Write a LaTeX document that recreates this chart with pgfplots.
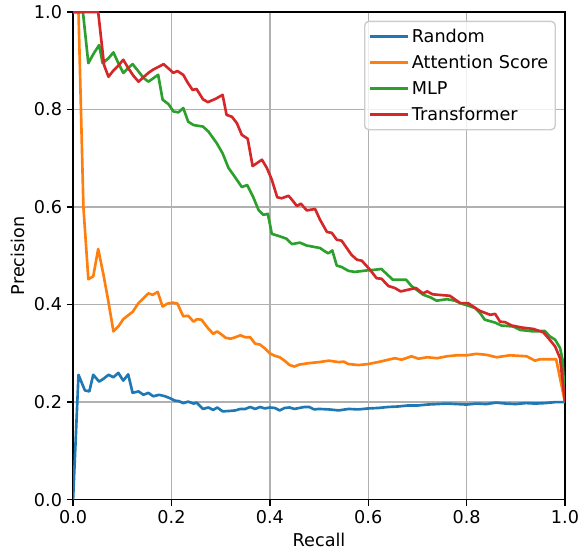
\documentclass[border=0pt]{standalone}
\usepackage{fontspec}
\setmainfont{DejaVu Sans}
\usepackage{pgfplots}
\pgfplotsset{compat=1.18}

\definecolor{tabblue}{HTML}{1F77B4}
\definecolor{taborange}{HTML}{FF7F0E}
\definecolor{tabgreen}{HTML}{2CA02C}
\definecolor{tabred}{HTML}{D62728}
\newcommand{\mplfont}{\fontsize{12.7pt}{15pt}\selectfont}

\begin{document}
\begin{tikzpicture}
\begin{axis}[
    scale only axis,
    width=354pt, height=351pt,
    xmin=0, xmax=1, ymin=0, ymax=1,
    xtick={0,0.2,...,1.0}, ytick={0,0.2,...,1.0},
    xticklabel style={/pgf/number format/.cd, fixed, fixed zerofill, precision=1},
    yticklabel style={/pgf/number format/.cd, fixed, fixed zerofill, precision=1},
    /pgf/number format/assume math mode=true,
    ticklabel style={font=\mplfont},
    label style={font=\mplfont},
    tick align=outside, xtick pos=bottom, ytick pos=left,
    major tick length=4.4pt,
    tick style={black, line width=1pt},
    axis line style={black, line width=1pt},
    grid=major,
    grid style={color=black!31, line width=1pt},
    xlabel={Recall}, ylabel={Precision},
    every axis plot/.append style={line width=1.9pt, line join=round},
    legend cell align=left,
    legend image code/.code={\draw[#1] (0pt,0pt) -- (27pt,0pt);},
    legend style={at={(1,1)}, anchor=north east, xshift=-6.5pt, yshift=-6.3pt,
        font=\mplfont,
        draw=black!20, line width=1pt, rounded corners=3pt, fill=white, fill opacity=0.8, text opacity=1,
        row sep=3.8pt, inner xsep=3pt, inner ysep=3.2pt},
]
\addplot[tabblue] coordinates {
(0,0) (0.011,0.256) (0.024,0.224) (0.033,0.222) (0.041,0.256) (0.053,0.242) (0.062,0.248)
(0.072,0.256) (0.082,0.251) (0.092,0.26) (0.102,0.244) (0.112,0.257) (0.121,0.219) (0.133,0.222)
(0.143,0.215) (0.153,0.219) (0.163,0.212) (0.175,0.215) (0.187,0.212) (0.197,0.208) (0.207,0.203)
(0.215,0.202) (0.224,0.198) (0.234,0.201) (0.245,0.197) (0.251,0.199) (0.264,0.186) (0.275,0.189)
(0.285,0.184) (0.293,0.189) (0.304,0.181) (0.32,0.182) (0.33,0.183) (0.34,0.186) (0.35,0.186)
(0.36,0.19) (0.37,0.186) (0.38,0.19) (0.39,0.187) (0.40,0.189) (0.41,0.188) (0.42,0.183)
(0.43,0.188) (0.44,0.189) (0.45,0.186) (0.46,0.188) (0.47,0.19) (0.48,0.19) (0.49,0.185)
(0.50,0.186) (0.52,0.185) (0.54,0.183) (0.56,0.186) (0.58,0.185) (0.60,0.187) (0.62,0.188)
(0.64,0.19) (0.66,0.191) (0.68,0.193) (0.70,0.193) (0.72,0.195) (0.74,0.196) (0.76,0.197)
(0.78,0.196) (0.80,0.195) (0.82,0.197) (0.84,0.196) (0.86,0.199) (0.88,0.197) (0.90,0.196)
(0.92,0.198) (0.94,0.197) (0.96,0.198) (0.98,0.2) (1.0,0.2)
};
\addlegendentry{Random}
\addplot[taborange] coordinates {
(0,1) (0.011,1.0) (0.021,0.6) (0.023,0.57) (0.031,0.452) (0.041,0.458) (0.051,0.514) (0.062,0.46)
(0.072,0.405) (0.082,0.345) (0.092,0.355) (0.102,0.37) (0.112,0.378) (0.121,0.385) (0.133,0.403)
(0.143,0.413) (0.153,0.423) (0.162,0.42) (0.172,0.426) (0.182,0.396) (0.192,0.402) (0.203,0.404)
(0.212,0.402) (0.224,0.376) (0.234,0.377) (0.245,0.365) (0.252,0.37) (0.261,0.369) (0.274,0.352)
(0.285,0.34) (0.293,0.345) (0.30,0.34) (0.31,0.332) (0.32,0.33) (0.33,0.333) (0.34,0.337)
(0.35,0.333) (0.36,0.333) (0.37,0.32) (0.38,0.318) (0.39,0.31) (0.40,0.3) (0.41,0.295)
(0.42,0.292) (0.43,0.285) (0.44,0.276) (0.45,0.273) (0.46,0.277) (0.48,0.28) (0.50,0.282)
(0.52,0.285) (0.54,0.282) (0.55,0.283) (0.56,0.278) (0.58,0.276) (0.60,0.278) (0.624,0.283)
(0.654,0.29) (0.668,0.287) (0.688,0.294) (0.702,0.289) (0.72,0.292) (0.74,0.29) (0.76,0.294)
(0.78,0.296) (0.80,0.296) (0.82,0.299) (0.84,0.297) (0.861,0.292) (0.888,0.296) (0.922,0.294)
(0.939,0.285) (0.949,0.288) (0.982,0.288) (1.0,0.2)
};
\addlegendentry{Attention Score}
\addplot[tabgreen] coordinates {
(0,1) (0.02,1.0) (0.031,0.895) (0.042,0.915) (0.053,0.932) (0.06,0.895) (0.072,0.905) (0.082,0.917)
(0.092,0.895) (0.102,0.875) (0.112,0.885) (0.121,0.893) (0.133,0.878) (0.143,0.865) (0.153,0.857)
(0.163,0.864) (0.173,0.871) (0.182,0.82) (0.194,0.811) (0.204,0.796) (0.214,0.794) (0.224,0.803)
(0.234,0.775) (0.245,0.768) (0.264,0.765) (0.275,0.755) (0.292,0.731) (0.304,0.71) (0.316,0.68)
(0.326,0.666) (0.343,0.641) (0.354,0.645) (0.366,0.621) (0.377,0.594) (0.387,0.584) (0.396,0.586)
(0.404,0.545) (0.42,0.54) (0.434,0.535) (0.445,0.524) (0.461,0.527) (0.475,0.521) (0.502,0.516)
(0.512,0.509) (0.519,0.505) (0.527,0.511) (0.536,0.48) (0.546,0.477) (0.56,0.469) (0.573,0.467)
(0.597,0.47) (0.61,0.471) (0.627,0.473) (0.632,0.468) (0.65,0.451) (0.677,0.451) (0.688,0.438)
(0.712,0.42) (0.726,0.415) (0.739,0.408) (0.76,0.411) (0.776,0.408) (0.79,0.402) (0.817,0.393)
(0.827,0.383) (0.837,0.369) (0.858,0.363) (0.871,0.357) (0.895,0.355) (0.909,0.348) (0.936,0.345)
(0.959,0.346) (0.969,0.335) (0.98,0.328) (0.99,0.311) (0.995,0.287) (1.0,0.2)
};
\addlegendentry{MLP}
\addplot[tabred] coordinates {
(0,1) (0.051,1.0) (0.063,0.891) (0.072,0.867) (0.082,0.88) (0.092,0.89) (0.102,0.902) (0.112,0.885)
(0.122,0.87) (0.133,0.857) (0.143,0.866) (0.153,0.875) (0.163,0.882) (0.173,0.887) (0.184,0.893)
(0.194,0.884) (0.204,0.875) (0.212,0.879) (0.224,0.871) (0.233,0.855) (0.243,0.84) (0.251,0.842)
(0.264,0.821) (0.274,0.815) (0.29,0.822) (0.304,0.83) (0.312,0.789) (0.323,0.785) (0.333,0.772)
(0.343,0.748) (0.355,0.74) (0.365,0.684) (0.384,0.697) (0.394,0.68) (0.404,0.656) (0.415,0.62)
(0.424,0.618) (0.438,0.623) (0.445,0.615) (0.455,0.602) (0.463,0.607) (0.475,0.593) (0.492,0.596)
(0.502,0.574) (0.516,0.549) (0.526,0.547) (0.536,0.533) (0.546,0.531) (0.566,0.502) (0.577,0.492)
(0.587,0.49) (0.604,0.471) (0.617,0.454) (0.627,0.453) (0.641,0.438) (0.654,0.434) (0.666,0.427)
(0.697,0.434) (0.711,0.423) (0.72,0.427) (0.731,0.421) (0.766,0.418) (0.787,0.403) (0.803,0.403)
(0.827,0.387) (0.848,0.379) (0.858,0.381) (0.868,0.365) (0.878,0.364) (0.892,0.357) (0.912,0.353)
(0.936,0.35) (0.956,0.343) (0.969,0.328) (0.98,0.314) (0.99,0.29) (1.0,0.2)
};
\addlegendentry{Transformer}
\end{axis}
\pgfresetboundingbox
\useasboundingbox ([shift={(-52.6pt,-38.2pt)}]current axis.south west) rectangle ([shift={(10.1pt,8.6pt)}]current axis.north east);
\end{tikzpicture}
\end{document}
